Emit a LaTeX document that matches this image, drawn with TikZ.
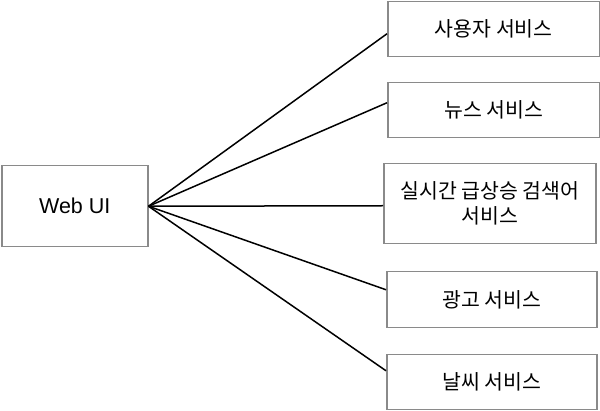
\documentclass[tikz,border=0pt]{standalone}
\usepackage{fontspec}
\setmainfont{Liberation Sans}
\newfontfamily\kr{Noto Sans CJK KR}
\definecolor{boxgray}{HTML}{8A8A8A}
\begin{document}
\begin{tikzpicture}[x=1pt,y=-1pt,
  box/.style={draw=boxgray, line width=1.5pt, fill=white, inner sep=0pt, align=center, anchor=north west},
  svc/.style={box, minimum width=212pt, font=\kr\fontsize{20.5}{25}\selectfont},
  link/.style={line width=1.5pt, black}]
\useasboundingbox (0,0) rectangle (600,411);
\node[box, minimum width=146pt, minimum height=81pt, font=\fontsize{21.5}{25}\selectfont] (web) at (1,165) {Web UI};
\node[svc, minimum height=55pt] (s1) at (387,1) {사용자 서비스};
\node[svc, minimum height=55pt] (s2) at (387,82) {뉴스 서비스};
\node[svc, minimum width=212pt, minimum height=80pt] (s3) at (383,163) {실시간 급상승 검색어\\서비스};
\node[svc, minimum width=210pt, minimum height=56pt] (s4) at (386,271) {광고 서비스};
\node[svc, minimum width=210pt, minimum height=55pt] (s5) at (386,354) {날씨 서비스};
\draw[link] (web.east) -- ([yshift=-4.5pt]s1.west);
\draw[link] (web.east) -- ([yshift=7.5pt]s2.west);
\draw[link] (web.east) -- ([yshift=-2pt]s3.west);
\draw[link] (web.east) -- ([yshift=10pt]s4.west);
\draw[link] (web.east) -- ([yshift=11.5pt]s5.west);
\end{tikzpicture}
\end{document}
